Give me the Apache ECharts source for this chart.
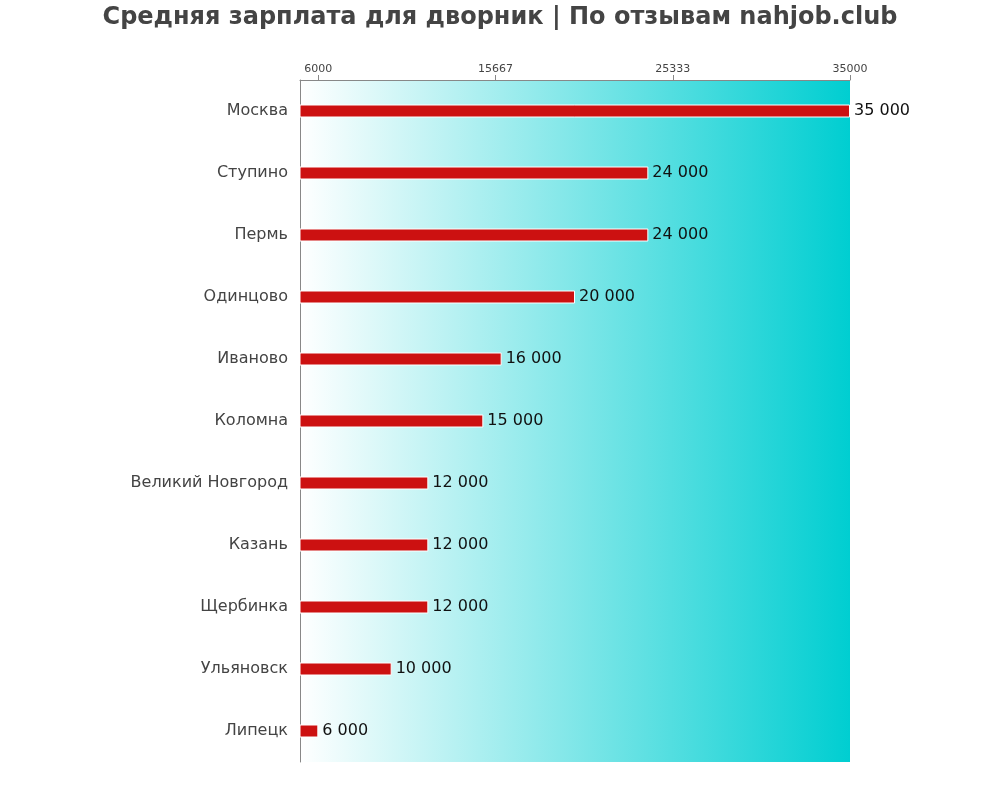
<!DOCTYPE html>
<html>
<head>
<meta charset="utf-8">
<script src="https://cdn.jsdelivr.net/npm/echarts@6/dist/echarts.min.js"></script>
<style>html,body{margin:0;padding:0;background:#fff}#c{width:1000px;height:800px}</style>
</head>
<body>
<div id="c"></div>
<script>
const titleText = "Средняя зарплата для дворник | По отзывам nahjob.club";
const categories = ["Москва","Ступино","Пермь","Одинцово","Иваново","Коломна","Великий Новгород","Казань","Щербинка","Ульяновск","Липецк"];
const values = [35000,24000,24000,20000,16000,15000,12000,12000,12000,10000,6000];
const tickValues = [6000,15667,25333,35000];
const axisMin = 5000, axisMax = 35000;

const FF = "'DejaVu Sans', sans-serif";
const chart = echarts.init(document.getElementById('c'));
chart.setOption({
  animation: false,
  title: {
    text: titleText, left: 'center', top: 1,
    textStyle: {fontFamily: FF, fontSize: 24, fontWeight: 'bold', color: '#444'}
  },
  grid: {
    left: 300, right: 150, top: 80, bottom: 38, show: true, borderWidth: 0,
    backgroundColor: new echarts.graphic.LinearGradient(0,0,1,0,[{offset:0,color:'#ffffff'},{offset:1,color:'#00CED1'}])
  },
  xAxis: {
    type: 'value', position: 'top', min: axisMin, max: axisMax,
    splitLine: {show: false},
    axisLine: {show: true, lineStyle: {color: '#888', width: 1}},
    axisTick: {show: true, length: 5, lineStyle: {color: '#888'}, customValues: tickValues},
    axisLabel: {customValues: tickValues, fontFamily: FF, fontSize: 11, color: '#444', margin: 5,
      formatter: v => String(Math.round(v))}
  },
  yAxis: {
    type: 'category', inverse: true, data: categories,
    axisLine: {show: true, lineStyle: {color: '#888', width: 1}},
    axisTick: {show: false},
    axisLabel: {fontFamily: FF, fontSize: 16, color: '#444', margin: 12}
  },
  series: [{
    type: 'bar', data: values, barWidth: 13,
    itemStyle: {color: '#CC1111', borderColor: '#fff', borderWidth: 1},
    label: {
      show: true, position: 'right', distance: 4,
      fontFamily: FF, fontSize: 16, color: '#111',
      formatter: p => String(p.value).replace(/\B(?=(\d{3})+(?!\d))/g, ' ')
    }
  }]
});
</script>
</body>
</html>
